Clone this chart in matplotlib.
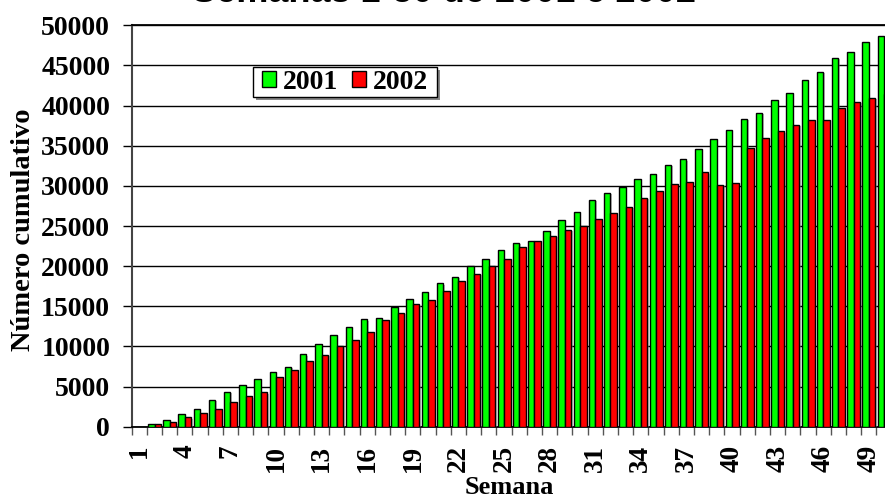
import matplotlib
matplotlib.use("Agg")
import matplotlib.pyplot as plt
import matplotlib.patheffects as pe
from matplotlib.patches import Patch, Rectangle
from matplotlib.ticker import FixedLocator
import numpy as np

# cumulative counts, weeks 1-50
weeks = list(range(1, 51))
w2001 = [0, 300, 800, 1540, 2240, 3360, 4350, 5150, 5970, 6840,
         7460, 9040, 10290, 11400, 12380, 13380, 13480, 14890, 15880, 16840,
         17870, 18700, 20070, 20940, 22060, 22930, 23100, 24430, 25800, 26790,
         28280, 29100, 29850, 30800, 31470, 32590, 33300, 34630, 35790, 36900,
         38390, 39100, 40720, 41590, 43200, 44200, 45940, 46690, 47930, 48680]
w2002 = [0, 300, 550, 1170, 1670, 2240, 3030, 3780, 4280, 6140,
         7090, 8210, 8960, 10040, 10780, 11800, 13270, 14180, 15260, 15760,
         16880, 18120, 19070, 20070, 20860, 22350, 23100, 23800, 24550, 25050,
         25920, 26670, 27360, 28480, 29350, 30220, 30470, 31680, 30100, 30310,
         34670, 35910, 36780, 37610, 38150, 38150, 39750, 40460, 40960, 41500]
tick_weeks = list(range(1, 51, 3))
yticks = list(range(0, 50001, 5000))

serif = "Liberation Serif"
sans = "Liberation Sans"

fig = plt.figure(figsize=(8.85, 5), dpi=100)
W, H = 885, 500
left, top, bottom = 131.7, 25.3, 426.7
width = 760.0
ax = fig.add_axes([left / W, (H - bottom) / H, width / W, (bottom - top) / H])

x = np.array(weeks)
bw = 0.43
shadow = [pe.SimplePatchShadow(offset=(1, -1), shadow_rgbFace="grey", alpha=0.5), pe.Normal()]
b1 = ax.bar(x - bw / 2, w2001, width=bw, color="#00ff00", edgecolor="black", linewidth=1, zorder=3)
b2 = ax.bar(x + bw / 2, w2002, width=bw, color="#ff0000", edgecolor="black", linewidth=1, zorder=3)
for b in list(b1) + list(b2):
    b.set_path_effects(shadow)

ax.set_xlim(0.5, 50.5)
ax.set_ylim(0, 50000)
ax.set_yticks(yticks)
ax.set_xticks(tick_weeks)
ax.xaxis.set_minor_locator(FixedLocator(np.arange(0.5, 51, 1)))
ax.tick_params(axis="x", which="major", length=0, pad=13)
ax.tick_params(axis="x", which="minor", length=6, width=1, color="#555555", direction="out")
ax.tick_params(axis="y", length=6.5, width=1, pad=9)

for lab in ax.get_yticklabels():
    lab.set_fontfamily(serif)
    lab.set_fontweight("bold")
    lab.set_fontsize(20)
ax.set_xticklabels([str(t) for t in tick_weeks], rotation=90, fontfamily=serif,
                   fontweight="bold", fontsize=19.5, va="top", ha="center")

ax.yaxis.grid(True, color="black", linewidth=1, zorder=0)
ax.set_axisbelow(True)
ax.spines["right"].set_visible(False)
ax.spines["left"].set_color("#444444")
ax.spines["left"].set_linewidth(1.5)
ax.spines["top"].set_linewidth(1.3)
ax.spines["bottom"].set_linewidth(1.3)

ax.set_ylabel("Número cumulativo", fontfamily=serif, fontweight="bold", fontsize=20.5)
ax.yaxis.set_label_coords((36 - left) / width, (bottom - 230) / (bottom - top))
ax.set_xlabel("Semana", fontfamily=serif, fontweight="bold", fontsize=19)
ax.xaxis.set_label_coords((509 - left) / width, (bottom - 476) / (bottom - top))

fig.text(444.5 / W, (H - 2.5) / H, "Semanas 1-50 de 2001 e 2002", ha="center", va="baseline",
         fontfamily=sans, fontweight="bold", fontsize=26)

# legend box drawn at its place in the reference, with a drop shadow
bx0, bx1, by0, by1 = 252.7, 437.3, 67.3, 97.3
fig.patches.append(Rectangle(((bx0 + 3) / W, (H - by1 - 3) / H), (bx1 - bx0) / W, (by1 - by0) / H,
                             transform=fig.transFigure, facecolor="#888888", edgecolor="none", zorder=4))
fig.patches.append(Rectangle((bx0 / W, (H - by1) / H), (bx1 - bx0) / W, (by1 - by0) / H,
                             transform=fig.transFigure, facecolor="white", edgecolor="black",
                             linewidth=1, zorder=4.5))
handles = [Patch(facecolor="#00ff00", edgecolor="black"), Patch(facecolor="#ff0000", edgecolor="black")]
leg = fig.legend(handles, ["2001", "2002"], loc="center",
                 bbox_to_anchor=((bx0 + bx1) / 2 / W, (H - (by0 + by1) / 2) / H),
                 bbox_transform=fig.transFigure, ncol=2, frameon=False, borderaxespad=0,
                 handlelength=0.5, handleheight=0.5, handletextpad=0.25, columnspacing=0.5,
                 borderpad=0.1, prop={"family": serif, "weight": "bold", "size": 20})
leg.set_zorder(5)

fig.savefig("out.png", dpi=100)
